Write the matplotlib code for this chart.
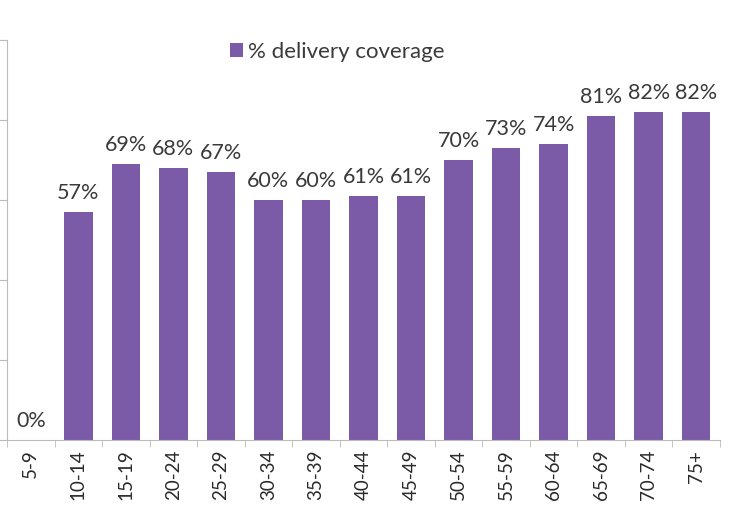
import matplotlib.pyplot as plt
import numpy as np

age_groups = ['5-9', '10-14', '15-19', '20-24', '25-29', '30-34', '35-39', '40-44',
              '45-49', '50-54', '55-59', '60-64', '65-69', '70-74', '75+']
coverage = [0, 57, 69, 68, 67, 60, 60, 61, 61, 70, 73, 74, 81, 82, 82]

plt.rcParams['font.family'] = ['Lato', 'DejaVu Sans']

fig = plt.figure(figsize=(7.30, 5.19), dpi=100)
ax = fig.add_axes([7 / 730, 1 - 440 / 519, 713 / 730, 400 / 519])

x = np.arange(len(age_groups))
bars = ax.bar(x, coverage, width=0.6, color='#7b5ba8', label='% delivery coverage')

for xi, v in zip(x, coverage):
    ax.text(xi, v + 2.3, f'{v}%', ha='center', va='bottom', fontsize=15.5, color='#3a3a3a')

ax.set_xlim(-0.5, len(age_groups) - 0.5)
ax.set_ylim(0, 100)
ax.set_yticks(np.arange(0, 101, 20))
ax.set_yticklabels([])
ax.set_xticks(x)
ax.set_xticklabels(age_groups, rotation=90, fontsize=13.5, color='#2a2a2a')
ax.set_xticks(np.arange(-0.5, len(age_groups), 1), minor=True)
ax.tick_params(axis='x', which='major', length=0, pad=7)
ax.tick_params(axis='x', which='minor', length=5, color='#bbbbbb')
ax.tick_params(axis='y', length=6, color='#bbbbbb')

for side in ['top', 'right']:
    ax.spines[side].set_visible(False)
for side in ['left', 'bottom']:
    ax.spines[side].set_color('#bbbbbb')

ax.legend(loc='upper center', bbox_to_anchor=(0.463, 1.045), frameon=False, fontsize=16,
          handlelength=0.6, handleheight=0.6, handletextpad=0.2, labelcolor='#3a3a3a')

fig.savefig('out.png', dpi=100)
